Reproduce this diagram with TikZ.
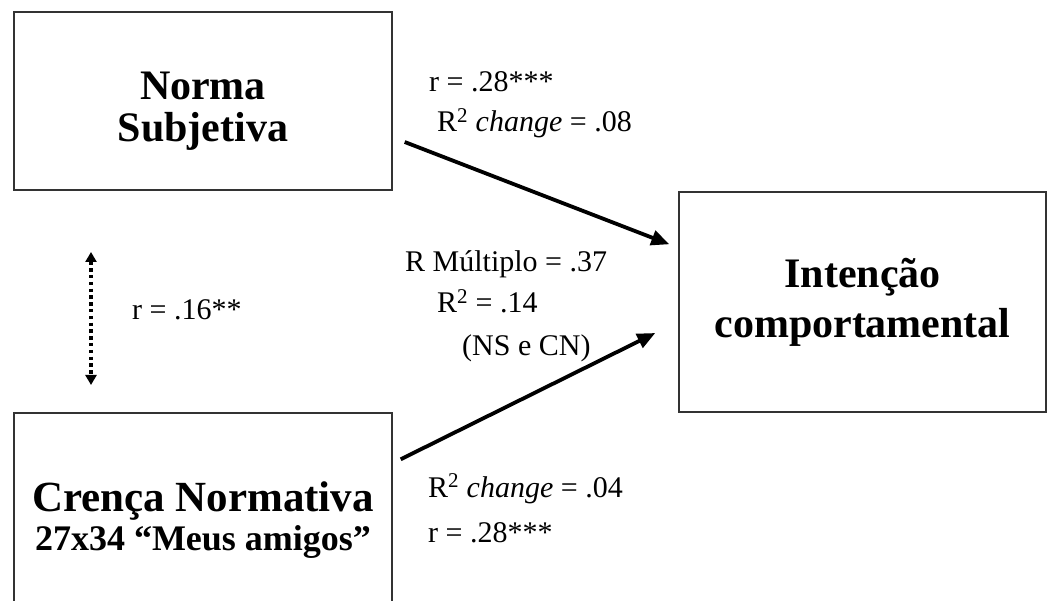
\documentclass[tikz,border=0pt]{standalone}
\usepackage{fontspec}
\setmainfont{Liberation Serif}
\usetikzlibrary{arrows.meta,positioning,calc}
\definecolor{cLine}{HTML}{333333}
\tikzset{
  box/.style={draw=cLine, line width=1.4pt, align=center, inner sep=0pt},
  title/.style={font=\bfseries\fontsize{42}{42}\selectfont},
  link/.style={-{Triangle[length=18pt,width=15pt]}, line width=3.8pt},
  assoc/.style={{Triangle[length=10pt,width=11pt]}-{Triangle[length=10pt,width=11pt]},
    line width=3.6pt, dash pattern=on 3.4pt off 3.4pt},
  stat/.style={anchor=base west, inner sep=0pt, font=\fontsize{30}{30}\selectfont},
}

\begin{document}
\begin{tikzpicture}[x=1pt, y=-1pt]
    \useasboundingbox (0,0) rectangle (1058,601);
    \clip (0,0) rectangle (1058,601);
    % --- boxes, explicit coordinates ---
    \node[box, title, minimum width=378pt, minimum height=178pt] (ns) at (203,101)
      {\rule{0pt}{47pt}Norma\\Subjetiva};
    \node[box, title, minimum width=367pt, minimum height=220pt] (ic) at (862.5,302)
      {Intenção\\[8pt]comportamental};
    \node[box, minimum width=378pt, minimum height=214pt, font=\bfseries] (cn) at (203,520)
      {{\fontsize{43}{43}\selectfont Crença Normativa}\\[5pt]
       {\fontsize{36}{36}\selectfont 27x34 “Meus amigos”}};
    % --- paths ---
    \draw[link] ([shift={(12,41)}]ns.east) -- ([shift={(-9,53)}]ic.north west);
    \draw[link] ([shift={(8,47)}]cn.north east) -- ([shift={(-23,31)}]ic.west);
    % correlation between the two predictors
    \coordinate (ctop) at (91,252);
    \coordinate (cbot) at (91,385);
    \draw[assoc] (ctop) -- (cbot);
    % --- statistics ---
    \node[stat] (rns)  at (429,92)  {r = .28***};
    \node[stat] (dns)  at (437,132) {R\textsuperscript{2} \textit{change} = .08};
    \node[stat] (rmul) at (405,272) {R Múltiplo = .37};
    \node[stat] (rsq)  at (437,313) {R\textsuperscript{2} = .14};
    \node[stat] (both) at (462,356) {(NS e CN)};
    \node[stat] (dcn)  at (428,497) {R\textsuperscript{2} \textit{change} = .04};
    \node[stat] (rcn)  at (428,542) {r = .28***};
    \node[stat] (rcor) at (132,320) {r = .16**};
\end{tikzpicture}
\end{document}
